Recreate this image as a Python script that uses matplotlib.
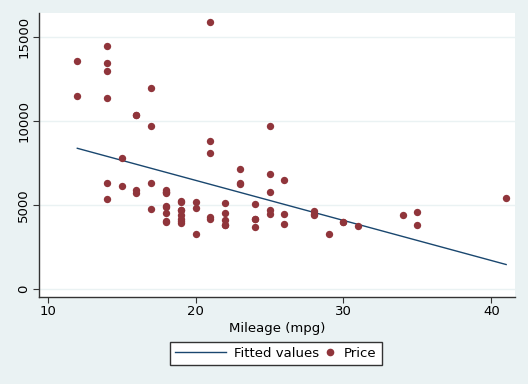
import numpy as np
import matplotlib.pyplot as plt
from matplotlib.lines import Line2D
from matplotlib.legend_handler import HandlerLine2D

# auto data: mileage (mpg) and price
mpg = [22, 17, 22, 20, 15, 18, 26, 20, 16, 19, 14, 14, 21, 29, 16, 22, 22, 24, 19, 30,
       18, 16, 17, 28, 21, 12, 12, 14, 22, 14, 15, 18, 14, 20, 21, 19, 19, 18, 19, 24,
       16, 28, 34, 25, 26, 18, 18, 18, 19, 19, 19, 24, 17, 23, 25, 23, 35, 24, 21, 21,
       25, 28, 30, 14, 26, 35, 18, 31, 18, 23, 41, 25, 25, 17]
price = [4099, 4749, 3799, 4816, 7827, 5788, 4453, 5189, 10372, 4082, 11385, 14500, 15906,
         3299, 5705, 4504, 5104, 3667, 3955, 3984, 4010, 5886, 6342, 4389, 4187, 11497,
         13594, 13466, 3829, 5379, 6165, 4516, 6303, 3291, 8814, 5172, 4733, 4890, 4181,
         4195, 10371, 4647, 4425, 4482, 6486, 4060, 5798, 4934, 5222, 4723, 4424, 4172,
         9690, 6295, 9735, 6229, 4589, 5079, 8129, 4296, 5799, 4499, 3995, 12990, 3895,
         3798, 5899, 3748, 5719, 7140, 5397, 4697, 6850, 11995]
yticks = [0, 5000, 10000, 15000]
xticks = [10, 20, 30, 40]

bg = '#EAF2F3'
maroon = '#90353B'
navy = '#1A476F'


# 图例中的圆点放在右边, 紧挨文字
class RightMarker(HandlerLine2D):
    def get_xdata(self, legend, xdescent, ydescent, width, height, fontsize):
        m = -xdescent + width - 4
        return np.array([m - 1, m + 1]), np.array([m])


plt.rcParams['font.family'] = 'DejaVu Sans'
fig = plt.figure(figsize=(5.28, 3.84), dpi=100, facecolor=bg)
ax = fig.add_axes([0.0733, 0.2266, 0.9021, 0.7394])
ax.set_facecolor('white')

# 线性拟合
coef = np.polyfit(mpg, price, 1)
xs = np.array([min(mpg), max(mpg)])
ax.plot(xs, np.polyval(coef, xs), color=navy, lw=1.0, zorder=2)
ax.scatter(mpg, price, s=28, color=maroon, zorder=3, linewidths=0)

ax.set_xlim(9.39, 41.6)
ax.set_ylim(-476, 16446)
ax.set_xticks(xticks)
ax.set_yticks(yticks)
ax.set_yticklabels([str(t) for t in yticks], rotation=90, va='center')
ax.yaxis.grid(True, color=bg, lw=1.0)
ax.set_axisbelow(True)
for s in ['top', 'right']:
    ax.spines[s].set_visible(False)
for s in ['left', 'bottom']:
    ax.spines[s].set_color('#333333')
    ax.spines[s].set_linewidth(1.0)
ax.tick_params(length=4, width=0.8, color='#333333', labelsize=9.5, pad=2)
ax.set_xlabel('Mileage (mpg)', fontsize=9.5, labelpad=3)

h_line = Line2D([], [], color=navy, lw=1.0)
h_dot = Line2D([], [], color=maroon, marker='o', ls='none', markersize=5.5, markeredgewidth=0)
fig.legend([h_line, h_dot], ['Fitted values', 'Price'], loc='center',
           bbox_to_anchor=(0.5226, 0.0794), ncol=2, fontsize=9.5,
           handler_map={h_dot: RightMarker()},
           frameon=True, fancybox=False, edgecolor='#333333', facecolor='white',
           framealpha=1, handlelength=3.8, columnspacing=-2.5, handletextpad=0.6,
           borderpad=0.4)

plt.savefig('out.png', dpi=100, facecolor=bg)
